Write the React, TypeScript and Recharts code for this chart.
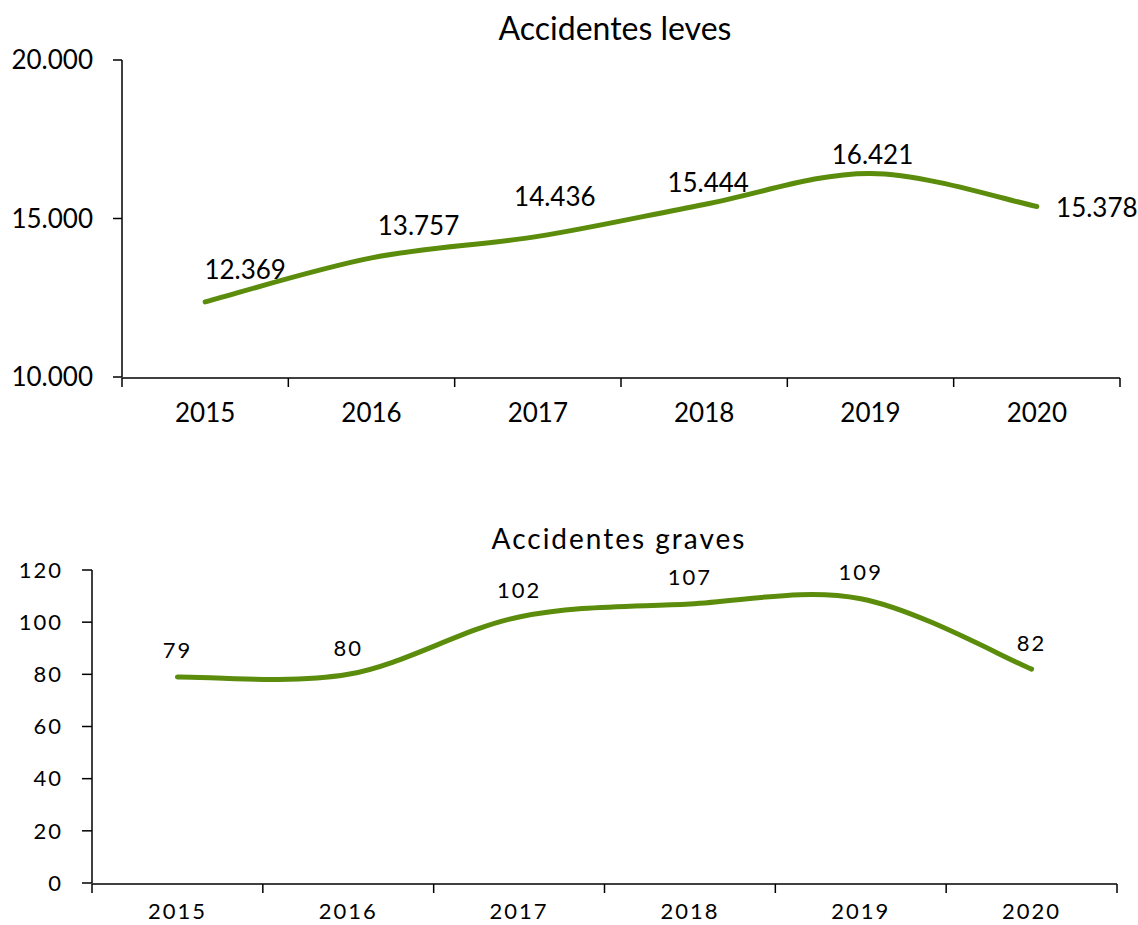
import React from "react";
import { LineChart, Line, XAxis, YAxis, LabelList } from "recharts";

const YEARS = ["2015", "2016", "2017", "2018", "2019", "2020"];
const LEVES = [12369, 13757, 14436, 15444, 16421, 15378];
const GRAVES = [79, 80, 102, 107, 109, 82];
const LEVES_TICKS = [10000, 15000, 20000];
const GRAVES_TICKS = [0, 20, 40, 60, 80, 100, 120];
const CAT_TICKS = [0, 1, 2, 3, 4, 5];
const EDGE_TICKS = [-0.5, 0.5, 1.5, 2.5, 3.5, 4.5, 5.5];

// hand-placed label offsets (like the Excel original)
const LEVES_DX = [40, 47, 17, 4, 2, 60];
const LEVES_DY = [-33, -33, -40, -22, -19, 0];

const GREEN = "#5b8c0b";
const FONT = "Lato, 'Liberation Sans', sans-serif";

const levesData = YEARS.map((y, i) => ({ idx: i, year: y, value: LEVES[i] }));
const gravesData = YEARS.map((y, i) => ({ idx: i, year: y, value: GRAVES[i] }));

const fmt = (n: number) => String(n).replace(/\B(?=(\d{3})+(?!\d))/g, ".");

// Excel-style smoothed line (Catmull-Rom through the points)
function excelSmooth(context: any) {
  let pts: number[][] = [];
  return {
    areaStart() {},
    areaEnd() {},
    lineStart() {
      pts = [];
    },
    lineEnd() {
      if (!pts.length) return;
      context.moveTo(pts[0][0], pts[0][1]);
      for (let i = 0; i < pts.length - 1; i++) {
        const p0 = pts[Math.max(0, i - 1)];
        const p1 = pts[i];
        const p2 = pts[i + 1];
        const p3 = pts[Math.min(pts.length - 1, i + 2)];
        context.bezierCurveTo(
          p1[0] + (p2[0] - p0[0]) / 6,
          p1[1] + (p2[1] - p0[1]) / 6,
          p2[0] - (p3[0] - p1[0]) / 6,
          p2[1] - (p3[1] - p1[1]) / 6,
          p2[0],
          p2[1]
        );
      }
    },
    point(x: number, y: number) {
      pts.push([+x, +y]);
    },
  };
}

const axisStroke = { stroke: "#000", strokeWidth: 1.5 };

export default function App() {
  return (
    <div style={{ position: "absolute", left: 0, top: 0, width: 1138, height: 925, overflow: "hidden", background: "#fff", fontFamily: FONT }}>
      <div style={{ position: "absolute", top: 9, left: 0, width: 1230, textAlign: "center", fontSize: 32, lineHeight: "38px", color: "#000" }}>
        Accidentes leves
      </div>
      <div style={{ position: "absolute", top: 0, left: 0 }}>
        <LineChart width={1138} height={460} data={levesData} margin={{ top: 60, right: 18, bottom: 81, left: 22 }}>
          <XAxis
            xAxisId="edge"
            type="number"
            dataKey="idx"
            domain={[-0.5, 5.5]}
            ticks={EDGE_TICKS}
            tickFormatter={() => ""}
            height={1}
            tickSize={9}
            axisLine={axisStroke}
            tickLine={axisStroke}
          />
          <XAxis
            xAxisId="cat"
            type="number"
            dataKey="idx"
            domain={[-0.5, 5.5]}
            ticks={CAT_TICKS}
            tickFormatter={(i: number) => YEARS[i]}
            height={1}
            tickSize={0}
            tickMargin={27}
            axisLine={false}
            tickLine={false}
            tick={{ fill: "#000", fontSize: 26, fontFamily: FONT }}
          />
          <YAxis
            type="number"
            domain={[10000, 20000]}
            ticks={LEVES_TICKS}
            tickFormatter={fmt}
            width={100}
            tickSize={9}
            tickMargin={20}
            axisLine={axisStroke}
            tickLine={axisStroke}
            tick={{ fill: "#000", fontSize: 26, fontFamily: FONT }}
          />
          <Line
            xAxisId="edge"
            dataKey="value"
            type={excelSmooth as any}
            stroke={GREEN}
            strokeWidth={5}
            strokeLinecap="round"
            dot={false}
            isAnimationActive={false}
          >
            <LabelList
              dataKey="value"
              content={(p: any) => (
                <text
                  x={p.x + LEVES_DX[p.index]}
                  y={p.y + LEVES_DY[p.index]}
                  textAnchor="middle"
                  dominantBaseline="central"
                  fill="#000"
                  fontSize={26}
                  fontFamily={FONT}
                >
                  {fmt(p.value)}
                </text>
              )}
            />
          </Line>
        </LineChart>
      </div>

      <div style={{ position: "absolute", top: 521, left: 0, width: 1238, textAlign: "center", fontSize: 28, lineHeight: "34px", color: "#000", letterSpacing: 2 }}>
        Accidentes graves
      </div>
      <div style={{ position: "absolute", top: 460, left: 0 }}>
        <LineChart width={1138} height={480} data={gravesData} margin={{ top: 110, right: 21, bottom: 55, left: 12 }}>
          <XAxis
            xAxisId="edge"
            type="number"
            dataKey="idx"
            domain={[-0.5, 5.5]}
            ticks={EDGE_TICKS}
            tickFormatter={() => ""}
            height={1}
            tickSize={9}
            axisLine={axisStroke}
            tickLine={axisStroke}
          />
          <XAxis
            xAxisId="cat"
            type="number"
            dataKey="idx"
            domain={[-0.5, 5.5]}
            ticks={CAT_TICKS}
            tickFormatter={(i: number) => YEARS[i]}
            height={1}
            tickSize={0}
            tickMargin={20}
            axisLine={false}
            tickLine={false}
            tick={{ fill: "#000", fontSize: 22, fontFamily: FONT, letterSpacing: 2 }}
          />
          <YAxis
            type="number"
            domain={[0, 120]}
            ticks={GRAVES_TICKS}
            width={80}
            tickSize={10}
            tickMargin={19}
            axisLine={axisStroke}
            tickLine={axisStroke}
            tick={{ fill: "#000", fontSize: 22, fontFamily: FONT, letterSpacing: 2 }}
          />
          <Line
            xAxisId="edge"
            dataKey="value"
            type={excelSmooth as any}
            stroke={GREEN}
            strokeWidth={5}
            strokeLinecap="round"
            dot={false}
            isAnimationActive={false}
          >
            <LabelList
              dataKey="value"
              content={(p: any) => (
                <text
                  x={p.x}
                  y={p.y - 27}
                  textAnchor="middle"
                  dominantBaseline="central"
                  fill="#000"
                  fontSize={22}
                  fontFamily={FONT}
                  letterSpacing={2}
                >
                  {p.value}
                </text>
              )}
            />
          </Line>
        </LineChart>
      </div>
    </div>
  );
}
